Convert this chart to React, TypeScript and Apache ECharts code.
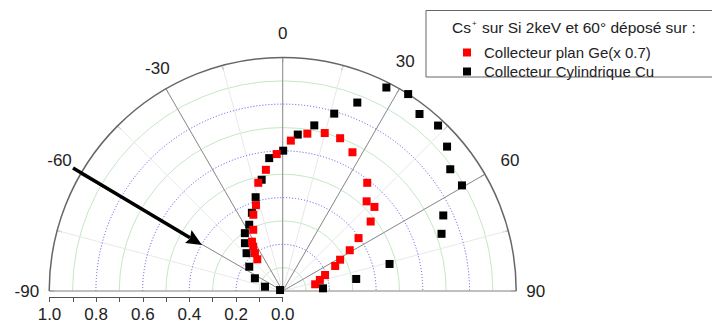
import React, { useEffect, useRef } from 'react';
import * as echarts from 'echarts';

// Angles in degrees (0 = vertical, positive to the right), radius on 0..1 scale
const blackAngles = [-70, -76.3, -65.4, -54.0, -43.7, -38.3, -33.2, -26.8, -21.5, -16.1, -10.7, -5.8, 0.2, 5.5, 10.8, 16.2, 21.6, 27.0, 32.5, 37.7, 43.2, 48.7, 54.0, 59.5, 64.8, 70.2, 75.8, 80.7, 86.2];
const blackRadii = [0.012, 0.078, 0.131, 0.177, 0.224, 0.261, 0.296, 0.318, 0.36, 0.418, 0.485, 0.572, 0.601, 0.673, 0.722, 0.791, 0.868, 0.978, 1.0, 0.958, 0.972, 0.937, 0.887, 0.891, 0.76, 0.723, 0.472, 0.319, 0.173];

const redAngles = [-38.7, -36.3, -33.6, -31.9, -25.7, -21.1, -17.3, -12.7, -7.9, -2.5, 3.1, 8.9, 14.9, 20.6, 26.7, 38.0, 43.1, 47.5, 51.7, 55.1, 58.7, 61.4, 64.5, 69.3, 73.4, 78.3];
const redRadii = [0.174, 0.201, 0.228, 0.249, 0.291, 0.35, 0.385, 0.475, 0.524, 0.587, 0.645, 0.682, 0.7, 0.699, 0.665, 0.588, 0.526, 0.533, 0.48, 0.396, 0.336, 0.28, 0.249, 0.194, 0.166, 0.142];

const seriesNames = ['Collecteur plan Ge(x 0.7)', 'Collecteur Cylindrique Cu'];
const legendTitle = ' sur Si 2keV et 60° déposé sur :';
const angleMin = -90;
const angleMax = 90;
const radiusMax = 1;

export default function App() {
  const ref = useRef<HTMLDivElement>(null);
  useEffect(() => {
    document.body.style.margin = '0';
    const chart = echarts.init(ref.current!, null, { renderer: 'svg' });
    const center = [282.7, 291];
    const radius = 233.5;
    const font = '"Liberation Sans", Arial, sans-serif';
    const tr = 'rgba(0,0,0,0)';
    const blue = '#5050e8';
    const green = '#c4e8c4';

    chart.setOption({
      animation: false,
      textStyle: { fontFamily: font },
      polar: [{ center, radius }, { center, radius }],
      angleAxis: [
        {
          polarIndex: 0, type: 'value', min: angleMin, max: angleMax, interval: 15,
          startAngle: 180, endAngle: 0, clockwise: true, z: 1,
          axisLine: { show: false },
          axisTick: { show: true, inside: true, length: 5, lineStyle: { color: '#777' } },
          axisLabel: {
            show: true, margin: 10, fontSize: 17, color: '#222', fontFamily: font,
            formatter: (v: number) => (Math.abs(v) === 60 || Math.abs(v) === 90 ? (v === 60 ? '{p|60}' : String(v)) : ''),
            rich: { p: { fontSize: 17, color: '#222', fontFamily: font, padding: [0, 0, 0, 7] } },
          },
          splitLine: { show: true, lineStyle: { color: '#e8e8e8', width: 1 } },
        },
        {
          polarIndex: 1, type: 'value', min: angleMin, max: angleMax, interval: 30,
          startAngle: 180, endAngle: 0, clockwise: true, z: 2,
          axisLine: { show: true, lineStyle: { color: '#666', width: 1.5 } },
          axisTick: { show: false },
          axisLabel: {
            show: true, margin: -7.5, fontSize: 17, color: '#222', fontFamily: font,
            formatter: (v: number) => (v === 0 ? '{c|0}' : v === -30 ? '{a|-30}' : v === 30 ? '{b|30}' : ''),
            rich: {
              a: { fontSize: 17, color: '#222', fontFamily: font, padding: [0, 0, 18, 0] },
              b: { fontSize: 17, color: '#222', fontFamily: font, padding: [0, 0, 25, 0] },
              c: { fontSize: 17, color: '#222', fontFamily: font, padding: [0, 0, 23, 0] },
            },
          },
          splitLine: { show: true, lineStyle: { color: '#8c8c8c', width: 1 } },
        },
      ],
      radiusAxis: [
        {
          polarIndex: 0, type: 'value', min: 0, max: radiusMax, interval: 0.1, z: 1,
          axisLine: { show: false }, axisTick: { show: false }, axisLabel: { show: false },
          splitLine: { show: true, lineStyle: { color: [tr, green], width: 1 } },
        },
        {
          polarIndex: 1, type: 'value', min: 0, max: radiusMax, interval: 0.2, z: 2,
          axisLine: { show: false }, axisTick: { show: false }, axisLabel: { show: false },
          splitLine: { show: true, lineStyle: { color: [tr, blue, blue, blue, blue, tr], width: 1, type: [1, 2] } },
        },
      ],
      grid: { left: 49.5, top: 291, width: 233.2, height: 6, show: false },
      xAxis: {
        type: 'value', min: 0, max: radiusMax, interval: 0.1, inverse: true, position: 'bottom',
        axisLine: { show: true, lineStyle: { color: '#555', width: 1 } },
        axisTick: { show: true, length: 5, lineStyle: { color: '#555' } },
        axisLabel: {
          margin: 9, fontSize: 17, color: '#222', fontFamily: font,
          formatter: (v: number) => (Math.round(v * 10) % 2 === 0 ? v.toFixed(1) : ''),
        },
        splitLine: { show: false },
      },
      yAxis: { type: 'value', show: false, min: 0, max: 1 },
      legend: {
        data: seriesNames,
        orient: 'vertical',
        left: 458, top: 40,
        itemWidth: 24, itemHeight: 8, itemGap: 4,
        icon: 'path://M0,0L8,0L8,8L0,8Z',
        textStyle: { fontSize: 15, color: '#222', fontFamily: font },
      },
      graphic: [
        { type: 'rect', shape: { x: 426, y: 10.5, width: 300, height: 66.5 }, style: { fill: '#fff', stroke: '#666', lineWidth: 1 }, z: 0 },
        {
          type: 'text', x: 452, y: 27,
          style: {
            text: '{a|Cs}{s|+}{a|' + legendTitle + '}',
            verticalAlign: 'middle',
            rich: {
              a: { fontSize: 15.5, fill: '#222', fontFamily: font },
              s: { fontSize: 8, fill: '#222', fontFamily: font, padding: [0, 1, 8, 1] },
            },
          },
          z: 1,
        },
        { type: 'line', shape: { x1: 73, y1: 168, x2: 190, y2: 237.8 }, style: { stroke: '#000', lineWidth: 3.5 }, z: 10 },
        { type: 'polygon', shape: { points: [[202, 245], [185, 243], [190, 238.5], [191.5, 230]] }, style: { fill: '#000' }, z: 10 },
      ],
      series: [
        {
          name: seriesNames[1], type: 'scatter', coordinateSystem: 'polar', polarIndex: 0,
          symbol: 'rect', symbolSize: 8, itemStyle: { color: '#000', opacity: 1 }, z: 5,
          data: blackRadii.map((r, i) => [r, blackAngles[i]]),
        },
        {
          name: seriesNames[0], type: 'scatter', coordinateSystem: 'polar', polarIndex: 0,
          symbol: 'rect', symbolSize: 8, itemStyle: { color: '#f00', opacity: 1 }, z: 6,
          data: redRadii.map((r, i) => [r, redAngles[i]]),
        },
      ],
    });
    return () => chart.dispose();
  }, []);
  return <div ref={ref} style={{ width: 712, height: 325 }} />;
}
